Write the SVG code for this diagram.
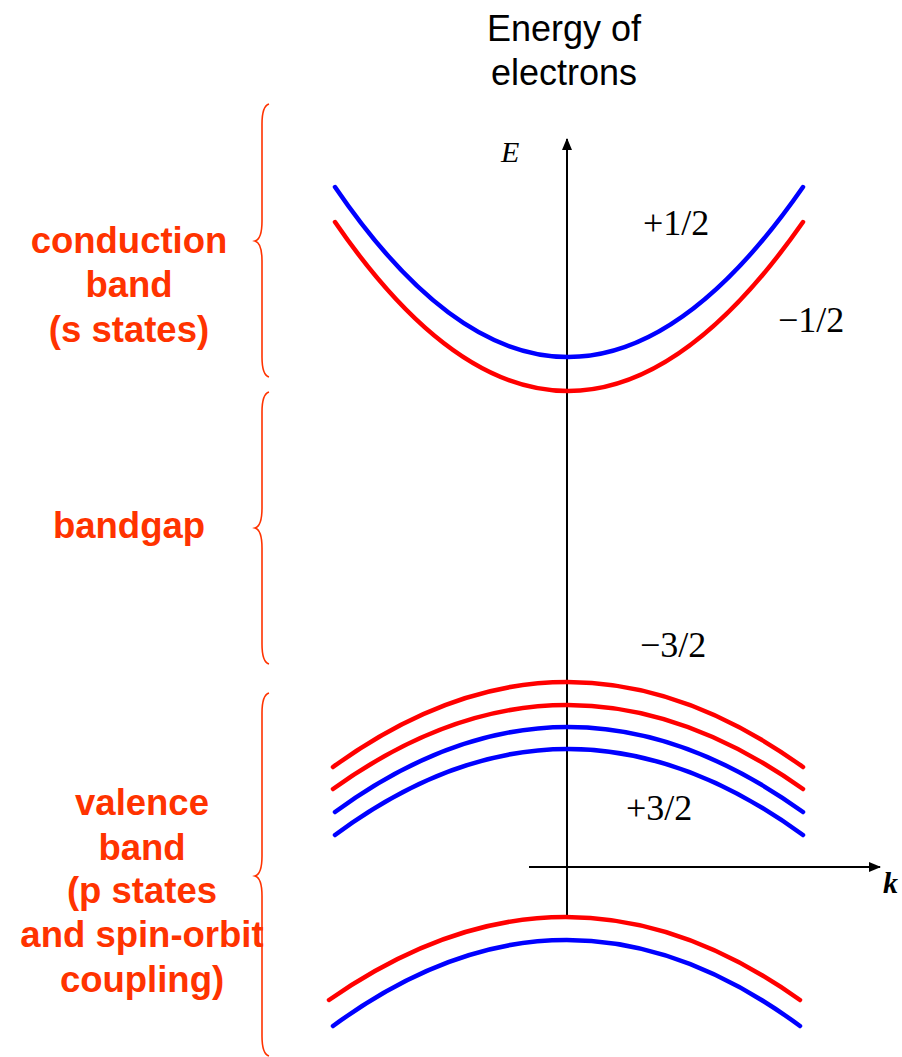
<svg xmlns="http://www.w3.org/2000/svg" width="902" height="1057" viewBox="0 0 902 1057">
<style>
.lbl{font-family:"Liberation Sans",Arial,sans-serif;font-weight:bold;font-size:36.5px;fill:#FF3300;text-anchor:middle}
.title{font-family:"Liberation Sans",Arial,sans-serif;font-size:36px;fill:#000;text-anchor:middle}
.num{font-family:"Liberation Serif","Times New Roman",serif;font-size:36px;fill:#000}
.brace{fill:none;stroke:#FF3300;stroke-width:1.6}
.blue{fill:none;stroke:#0000FF;stroke-width:4.5;stroke-linecap:round}
.red{fill:none;stroke:#FF0000;stroke-width:4.5;stroke-linecap:round}
.axis{fill:none;stroke:#000;stroke-width:2}
</style>
<defs>
<marker id="arr" markerWidth="12" markerHeight="10" refX="11" refY="5" orient="auto" markerUnits="userSpaceOnUse">
<path d="M0,0 L12,5 L0,10 Z" fill="#000"/>
</marker>
</defs>
<rect width="902" height="1057" fill="#fff"/>

<g id="title">
<text class="title" x="564" y="41">Energy of</text>
<text class="title" x="564" y="85">electrons</text>
</g>

<g id="connectors">
<path class="axis" d="M567,917 L567,139" marker-end="url(#arr)"/>
<path class="axis" d="M529,867 L880,867" marker-end="url(#arr)"/>
</g>

<g id="axis-labels">
<text x="501" y="162" font-family="Liberation Serif,serif" font-style="italic" font-size="30">E</text>
<text x="883" y="893" font-family="Liberation Serif,serif" font-style="italic" font-weight="bold" font-size="30">k</text>
</g>

<g id="conduction-band">
<path class="blue" d="M335,187 Q567,527 803,187"/>
<path class="red" d="M335,222 Q567,560 803,222"/>
<text class="num" x="643" y="235">+1/2</text>
<text class="num" x="778" y="332">−1/2</text>
</g>

<g id="valence-band">
<path class="red" d="M333,767 Q567,597 803,767"/>
<path class="red" d="M333,789 Q567,621 803,789"/>
<path class="blue" d="M335,812 Q567,642 803,812"/>
<path class="blue" d="M335,835 Q567,663 803,835"/>
<text class="num" x="640" y="657">−3/2</text>
<text class="num" x="626" y="820">+3/2</text>
</g>

<g id="split-off-band">
<path class="red" d="M329,1000 Q567,834 800,1000"/>
<path class="blue" d="M333,1026 Q567,854 800,1026"/>
</g>

<g id="brace-conduction">
<path class="brace" d="M269,104 Q262,106 262,124 L262,221 Q262,239 255,241 Q262,243 262,261 L262,357 Q262,375 269,377"/>
<text class="lbl" x="129" y="253">conduction</text>
<text class="lbl" x="129" y="297">band</text>
<text class="lbl" x="129" y="342">(s states)</text>
</g>

<g id="brace-bandgap">
<path class="brace" d="M269,392 Q262,394 262,412 L262,508 Q262,526 255,528 Q262,530 262,548 L262,644 Q262,662 269,664"/>
<text class="lbl" x="129" y="538">bandgap</text>
</g>

<g id="brace-valence">
<path class="brace" d="M269,693 Q262,695 262,713 L262,856 Q262,874 255,876 Q262,878 262,896 L262,1036 Q262,1054 269,1056"/>
<text class="lbl" x="142" y="815">valence</text>
<text class="lbl" x="142" y="860">band</text>
<text class="lbl" x="142" y="903">(p states</text>
<text class="lbl" x="142" y="947">and spin-orbit</text>
<text class="lbl" x="142" y="992">coupling)</text>
</g>
</svg>
